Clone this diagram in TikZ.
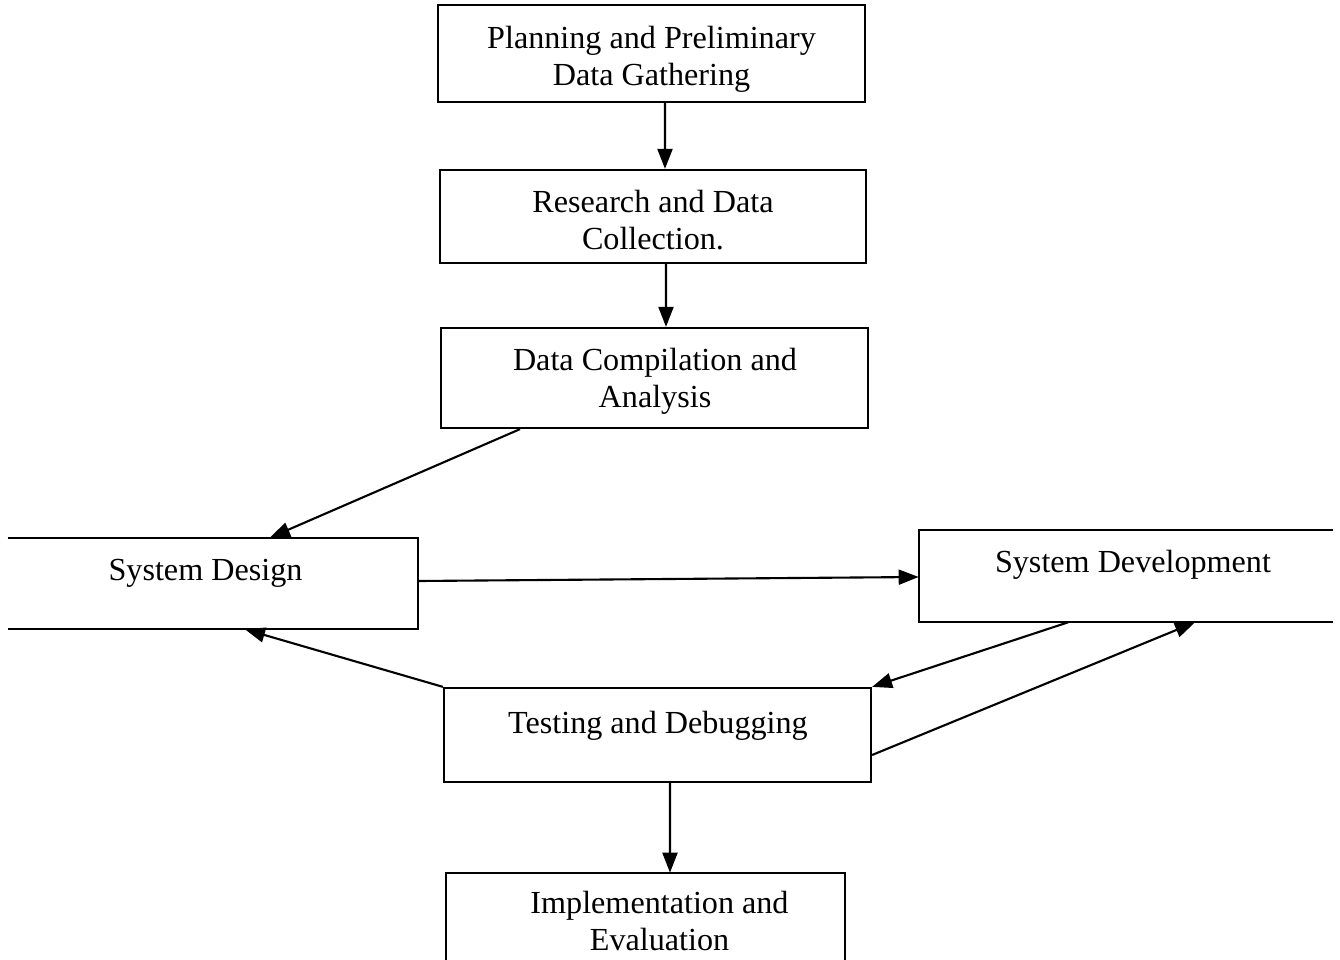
\documentclass[tikz,border=0pt]{standalone}
\usepackage{fontspec}
\setmainfont{Liberation Serif}
\usetikzlibrary{arrows.meta}
\begin{document}
\begin{tikzpicture}[x=0.02cm,y=-0.02cm,
  stagebox/.style={draw, line width=1.3pt, inner sep=0pt},
  openbox/.style={inner sep=0pt},
  boxline/.style={line width=1.3pt, line join=miter},
  stagetext/.style={inner sep=0pt, align=center, font=\fontsize{18.3}{21}\selectfont},
  flow/.style={-{Triangle[length=0.4cm,width=0.3cm]}, line width=1.2pt}]
\useasboundingbox (0,0) rectangle (1340,960);
\clip (0,0) rectangle (1340,960);

% closed stage boxes
\node[stagebox, minimum width=8.54cm, minimum height=1.94cm] (plan) at (651.5,53.5) {};
\node[stagetext] (plantxt) at (651.5,59.5) {Planning and Preliminary\\Data Gathering};
\node[stagebox, minimum width=8.52cm, minimum height=1.86cm] (research) at (653,216.5) {};
\node[stagetext] (researchtxt) at (653,220.5) {Research and Data\\Collection.};
\node[stagebox, minimum width=8.54cm, minimum height=2.0cm] (compile) at (654.5,378) {};
\node[stagetext] (compiletxt) at (655,381) {Data Compilation and\\Analysis};
\node[stagebox, minimum width=8.54cm, minimum height=1.88cm] (test) at (657.5,735) {};
\node[stagetext] (testtxt) at (658,726) {Testing and Debugging};

% boxes running off the page edge
\node[openbox, minimum width=8.2cm, minimum height=1.82cm] (design) at (213,583.5) {};
\draw[boxline] (design.north west) -- (design.north east) -- (design.south east) -- (design.south west);
\node[stagetext] (designtxt) at (205.5,573) {System Design};

\node[openbox, minimum width=8.28cm, minimum height=1.84cm] (dev) at (1126,576) {};
\draw[boxline] (dev.north east) -- (dev.north west) -- (dev.south west) -- (dev.south east);
\node[stagetext] (devtxt) at (1133,565) {System Development};

\node[openbox, minimum width=7.98cm, minimum height=2.54cm] (ie) at (645.5,936.5) {};
\draw[boxline] (ie.south west) -- (ie.north west) -- (ie.north east) -- (ie.south east);
\node[stagetext] (ietxt) at (659.5,921) {Implementation and\\Evaluation};

% connectors
\draw[flow] ([xshift=0.27cm]plan.south) -- ([xshift=0.24cm]research.north);
\draw[flow] ([xshift=0.26cm]research.south) -- ([xshift=0.23cm]compile.north);
\draw[flow] ([xshift=-2.69cm]compile.south) -- ([xshift=1.14cm]design.north);
\draw[flow] ([yshift=0.05cm]design.east) -- ([yshift=-0.02cm]dev.west);
\draw[flow] ([xshift=-1.16cm]dev.south) -- (test.north east);
\draw[flow] ([yshift=-0.4cm]test.east) -- ([xshift=1.38cm]dev.south);
\draw[flow] (test.north west) -- ([xshift=0.64cm]design.south);
\draw[flow] ([xshift=0.25cm]test.south) -- ([xshift=0.49cm]ie.north);
\end{tikzpicture}
\end{document}
